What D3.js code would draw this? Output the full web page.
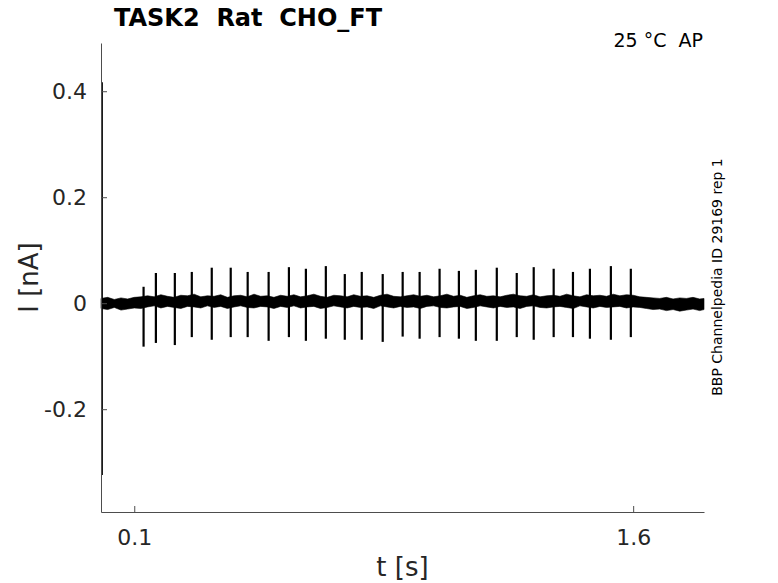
<!DOCTYPE html>
<html>
<head>
<meta charset="utf-8">
<script src="https://cdn.jsdelivr.net/npm/d3@7"></script>
<style>
  body { margin: 0; background: #fff; }
  svg { font-family: "DejaVu Sans", sans-serif; }
</style>
</head>
<body>
<svg id="chart" width="778" height="583"></svg>
<script>
// x tick labels and y tick labels
var xTicks = [0.1, 1.6]
var yTicks = [-0.2, 0, 0.2, 0.4]

// capacitive transient at start of the sweep
var transT = [0.003, 0.003]
var transV = [0.417, -0.324]

// action-current spikes: time, peak up, peak down
var spikeT = [0.128, 0.165, 0.222, 0.273, 0.333, 0.390, 0.441, 0.504, 0.565, 0.616,
              0.676, 0.733, 0.784, 0.847, 0.907, 0.958, 1.018, 1.076, 1.127, 1.190,
              1.250, 1.301, 1.361, 1.419, 1.470, 1.533, 1.593]
var spikeHi = [0.031, 0.057, 0.057, 0.059, 0.067, 0.067, 0.059, 0.059, 0.068, 0.065,
               0.070, 0.055, 0.059, 0.055, 0.059, 0.059, 0.065, 0.061, 0.063, 0.067,
               0.057, 0.068, 0.065, 0.059, 0.065, 0.070, 0.065]
var spikeLo = [-0.082, -0.075, -0.079, -0.064, -0.069, -0.064, -0.064, -0.071, -0.064, -0.071,
               -0.067, -0.069, -0.069, -0.073, -0.063, -0.067, -0.064, -0.067, -0.071, -0.071,
               -0.064, -0.069, -0.064, -0.064, -0.067, -0.069, -0.064]

// noise band envelope of the baseline current (upper / lower edge)
var bandT = [0.00, 0.02, 0.04, 0.06, 0.08, 0.10, 0.12, 0.14, 0.16, 0.18,
             0.20, 0.22, 0.24, 0.26, 0.28, 0.30, 0.32, 0.34, 0.36, 0.38,
             0.40, 0.42, 0.44, 0.46, 0.48, 0.50, 0.52, 0.54, 0.56, 0.58,
             0.60, 0.62, 0.64, 0.66, 0.68, 0.70, 0.72, 0.74, 0.76, 0.78,
             0.80, 0.82, 0.84, 0.86, 0.88, 0.90, 0.92, 0.94, 0.96, 0.98,
             1.00, 1.02, 1.04, 1.06, 1.08, 1.10, 1.12, 1.14, 1.16, 1.18,
             1.20, 1.22, 1.24, 1.26, 1.28, 1.30, 1.32, 1.34, 1.36, 1.38,
             1.40, 1.42, 1.44, 1.46, 1.48, 1.50, 1.52, 1.54, 1.56, 1.58,
             1.60, 1.62, 1.64, 1.66, 1.68, 1.70, 1.72, 1.74, 1.76, 1.78,
             1.80, 1.813]
var bandHi = [0.009, 0.011, 0.007, 0.010, 0.008, 0.011, 0.012,
              0.014, 0.012, 0.016, 0.013, 0.011, 0.015, 0.014, 0.017, 0.012, 0.014,
              0.013, 0.016, 0.011, 0.014, 0.015, 0.012, 0.017, 0.013, 0.014, 0.011,
              0.015, 0.013, 0.016, 0.012, 0.014, 0.017, 0.013, 0.011, 0.015, 0.014,
              0.012, 0.016, 0.013, 0.014, 0.011, 0.015, 0.017, 0.013, 0.012, 0.014,
              0.016, 0.013, 0.015, 0.012, 0.014, 0.017, 0.013, 0.015, 0.011, 0.014,
              0.016, 0.013, 0.014, 0.012, 0.015, 0.017, 0.014, 0.013, 0.016, 0.012,
              0.014, 0.015, 0.013, 0.017, 0.014, 0.012, 0.016, 0.014, 0.015, 0.013,
              0.017, 0.014, 0.016, 0.015,
              0.012, 0.011, 0.010, 0.009, 0.011, 0.008, 0.010, 0.009, 0.011, 0.008,
              0.009]
var bandLo = [-0.010, -0.012, -0.008, -0.013, -0.011, -0.009, -0.010,
              -0.007, -0.005, -0.009, -0.006, -0.008, -0.010, -0.006, -0.007, -0.009, -0.005,
              -0.008, -0.006, -0.010, -0.007, -0.005, -0.008, -0.009, -0.006, -0.007, -0.010,
              -0.006, -0.008, -0.005, -0.009, -0.007, -0.006, -0.010, -0.008, -0.005, -0.007,
              -0.009, -0.006, -0.008, -0.007, -0.010, -0.005, -0.007, -0.009, -0.006, -0.008,
              -0.007, -0.010, -0.006, -0.005, -0.008, -0.009, -0.007, -0.006, -0.010, -0.008,
              -0.005, -0.007, -0.009, -0.006, -0.008, -0.007, -0.010, -0.006, -0.005, -0.008,
              -0.009, -0.007, -0.006, -0.008, -0.010, -0.005, -0.007, -0.009, -0.006, -0.008,
              -0.007, -0.006, -0.009, -0.007,
              -0.008, -0.010, -0.012, -0.011, -0.014, -0.012, -0.015, -0.013, -0.011, -0.014,
              -0.012]

var svg = d3.select("#chart")
var mLeft = 101, mRight = 704, mTop = 43, mBottom = 512

var x = d3.scaleLinear().domain([0, 1.813]).range([mLeft, mRight])
var y = d3.scaleLinear().domain([-0.394, 0.491]).range([mBottom, mTop])

var axisColor = "#4d4d4d"
var textColor = "#262626"

// trace
var band = bandT.map(function(d, i){ return {t: d, hi: bandHi[i], lo: bandLo[i]} })
svg.append("path")
  .datum(band)
  .attr("fill", "#000")
  .attr("stroke", "#000")
  .attr("stroke-width", 0.6)
  .attr("d", d3.area()
    .x(function(d){ return x(d.t) })
    .y0(function(d){ return y(d.lo) })
    .y1(function(d){ return y(d.hi) }))

svg.append("line")
  .attr("x1", x(transT[0])).attr("x2", x(transT[1]))
  .attr("y1", y(transV[0])).attr("y2", y(transV[1]))
  .attr("stroke", "#000").attr("stroke-width", 1.8)

svg.selectAll(".spike")
  .data(spikeT)
  .enter().append("line")
  .attr("class", "spike")
  .attr("x1", function(d){ return x(d) })
  .attr("x2", function(d){ return x(d) })
  .attr("y1", function(d, i){ return y(spikeHi[i]) })
  .attr("y2", function(d, i){ return y(spikeLo[i]) })
  .attr("stroke", "#000").attr("stroke-width", 2.2)

// axes (ticks point inward)
var fmt = function(d){ return d === 0 ? "0" : d3.format(".1f")(d).replace("\u2212", "-") }
var xAxis = svg.append("g")
  .attr("transform", "translate(0," + mBottom + ")")
  .call(d3.axisBottom(x).tickValues(xTicks).tickSizeInner(-6).tickSizeOuter(0).tickPadding(14)
    .tickFormat(fmt))
var yAxis = svg.append("g")
  .attr("transform", "translate(" + mLeft + ",0)")
  .call(d3.axisLeft(y).tickValues(yTicks).tickSizeInner(-6).tickSizeOuter(0).tickPadding(14)
    .tickFormat(fmt))

svg.selectAll(".domain").attr("stroke", axisColor)
svg.selectAll(".tick line").attr("stroke", axisColor)
svg.selectAll(".tick text")
  .attr("fill", textColor)
  .style("font-size", "22px")
  .style("font-family", "DejaVu Sans")
xAxis.selectAll(".tick text").attr("dy", "0.85em")
yAxis.selectAll(".tick text").attr("dy", "0.35em")

// titles and labels
svg.append("text")
  .attr("x", 114).attr("y", 26)
  .style("font-size", "24px").style("font-weight", "bold")
  .attr("fill", "#000")
  .text("TASK2\u00a0\u00a0Rat\u00a0\u00a0CHO_FT")

svg.append("text")
  .attr("x", 703).attr("y", 47)
  .attr("text-anchor", "end")
  .style("font-size", "19px")
  .attr("fill", "#000")
  .text("25 °C\u00a0\u00a0AP")

svg.append("text")
  .attr("transform", "translate(722,277) rotate(-90)")
  .attr("text-anchor", "middle")
  .style("font-size", "14px")
  .attr("fill", "#000")
  .text("BBP Channelpedia ID 29169 rep 1")

svg.append("text")
  .attr("x", (mLeft + mRight) / 2).attr("y", 576)
  .attr("text-anchor", "middle")
  .style("font-size", "26px")
  .attr("fill", textColor)
  .text("t [s]")

svg.append("text")
  .attr("transform", "translate(38," + ((mTop + mBottom) / 2) + ") rotate(-90)")
  .attr("text-anchor", "middle")
  .style("font-size", "26px")
  .attr("fill", textColor)
  .text("I [nA]")
</script>
</body>
</html>
